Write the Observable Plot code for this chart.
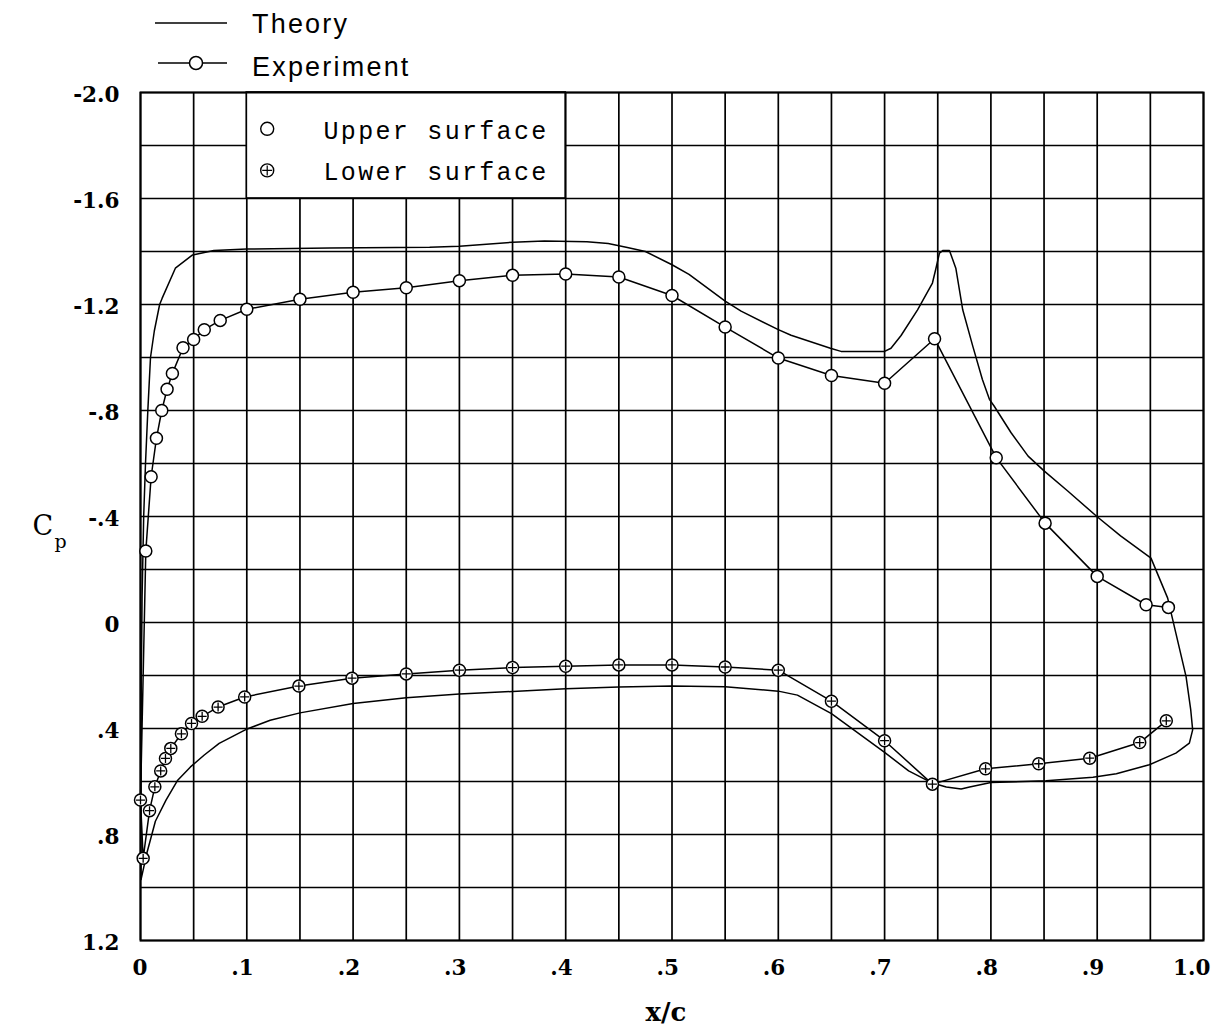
<!DOCTYPE html>
<html><head><meta charset="utf-8">
<script src="https://cdn.jsdelivr.net/npm/d3@7"></script>
<script src="https://cdn.jsdelivr.net/npm/@observablehq/plot@0.6"></script>
<style>
body{margin:0;background:#fff;}
#wrap{position:relative;width:1218px;height:1035px;}
#legend{position:absolute;left:0;top:0;height:84px;}
svg{display:block;}
</style>
</head><body>
<div id="wrap"><div id="chart"></div><div id="legend"></div></div>
<script>
// ---- Experimental data: upper surface ----
const upperX  = [0.005, 0.01, 0.015, 0.02, 0.025, 0.03, 0.04, 0.05, 0.06, 0.075, 0.10, 0.15, 0.20, 0.25, 0.30, 0.35, 0.40, 0.45, 0.50, 0.55, 0.60, 0.65, 0.70, 0.747, 0.805, 0.851, 0.90, 0.946, 0.967];
const upperCp = [-0.27, -0.55, -0.695, -0.80, -0.88, -0.94, -1.037, -1.068, -1.105, -1.14, -1.182, -1.22, -1.246, -1.263, -1.29, -1.31, -1.315, -1.304, -1.234, -1.115, -0.998, -0.932, -0.903, -1.071, -0.622, -0.375, -0.174, -0.067, -0.057];
// ---- Experimental data: lower surface ----
const lowerX  = [0, 0.0025, 0.0085, 0.0135, 0.019, 0.0235, 0.0285, 0.0385, 0.048, 0.058, 0.073, 0.098, 0.149, 0.199, 0.25, 0.30, 0.35, 0.40, 0.45, 0.50, 0.55, 0.60, 0.65, 0.70, 0.745, 0.795, 0.845, 0.893, 0.94, 0.965];
const lowerCp = [0.67, 0.89, 0.71, 0.62, 0.56, 0.513, 0.475, 0.42, 0.381, 0.354, 0.319, 0.281, 0.24, 0.21, 0.194, 0.18, 0.17, 0.165, 0.16, 0.16, 0.168, 0.18, 0.297, 0.446, 0.61, 0.552, 0.533, 0.512, 0.453, 0.371];
// ---- Theory: upper surface (LE -> TE) ----
const theoryUpperX  = [0.0005, 0.0004, 0.0008, 0.0015, 0.003, 0.0047, 0.0069, 0.0094, 0.013, 0.018, 0.0203, 0.0328, 0.049, 0.069, 0.10, 0.178, 0.272, 0.30, 0.35, 0.38, 0.42, 0.44, 0.458, 0.475, 0.50, 0.516, 0.55, 0.565, 0.60, 0.612, 0.649, 0.659, 0.70, 0.706, 0.7155, 0.731, 0.745, 0.748, 0.7516, 0.755, 0.761, 0.767, 0.7735, 0.783, 0.792, 0.7986, 0.803, 0.819, 0.835, 0.85, 0.872, 0.90, 0.922, 0.9506, 0.9663, 0.974, 0.9836, 0.988, 0.9898];
const theoryUpperCp = [0.97, 0.6, 0.2, -0.1, -0.4, -0.6, -0.8, -1.0, -1.1, -1.2, -1.223, -1.337, -1.387, -1.404, -1.409, -1.413, -1.416, -1.42, -1.435, -1.44, -1.437, -1.43, -1.415, -1.40, -1.35, -1.314, -1.213, -1.175, -1.105, -1.084, -1.035, -1.023, -1.023, -1.035, -1.083, -1.18, -1.281, -1.331, -1.394, -1.404, -1.404, -1.337, -1.18, -1.042, -0.917, -0.842, -0.817, -0.716, -0.628, -0.572, -0.497, -0.399, -0.327, -0.243, -0.092, 0.04, 0.204, 0.33, 0.405];
// ---- Theory: lower surface (TE -> LE) ----
const theoryLowerX  = [0.9867, 0.974, 0.949, 0.918, 0.896, 0.852, 0.80, 0.78, 0.772, 0.758, 0.745, 0.7226, 0.70, 0.65, 0.618, 0.60, 0.55, 0.50, 0.45, 0.40, 0.35, 0.30, 0.25, 0.20, 0.15, 0.122, 0.099, 0.074, 0.06, 0.047, 0.035, 0.024, 0.014, 0.006, 0.0005];
const theoryLowerCp = [0.455, 0.493, 0.537, 0.571, 0.584, 0.597, 0.604, 0.621, 0.628, 0.621, 0.606, 0.56, 0.49, 0.344, 0.274, 0.259, 0.242, 0.24, 0.243, 0.25, 0.26, 0.27, 0.284, 0.306, 0.341, 0.369, 0.404, 0.456, 0.50, 0.545, 0.595, 0.67, 0.75, 0.87, 0.97];
// ---- Ticks ----
const xTicks = [0, 0.1, 0.2, 0.3, 0.4, 0.5, 0.6, 0.7, 0.8, 0.9, 1.0];
const xTickLabels = ["0", ".1", ".2", ".3", ".4", ".5", ".6", ".7", ".8", ".9", "1.0"];
const yTicks = [-2.0, -1.6, -1.2, -0.8, -0.4, 0, 0.4, 0.8, 1.2];
const yTickLabels = ["-2.0", "-1.6", "-1.2", "-.8", "-.4", "0", ".4", ".8", "1.2"];
const xGridStep = 0.05, yGridStep = 0.2;
// ---- Legend text ----
const seriesLabels = ["Theory", "Experiment"];
const surfaceLabels = ["Upper surface", "Lower surface"];

// ---------- build ----------
const zip = (xs, ys) => xs.map((x, i) => ({x, cp: ys[i]}));
const upper = zip(upperX, upperCp);
const lower = zip(lowerX, lowerCp);
const theory = zip([...theoryUpperX, ...theoryLowerX], [...theoryUpperCp, ...theoryLowerCp]);
const expPath = [...upper.slice().reverse(), ...lower];

const xGrid = d3.range(0, 20).map(i => +(i * xGridStep).toFixed(2)).concat([1.0]);
const yGrid = d3.range(0, 17).map(i => +(-2.0 + i * yGridStep).toFixed(2));
const lookup = (ticks, labels) => d => labels[ticks.findIndex(t => Math.abs(t - d) < 1e-9)];

const plusSymbol = {draw(ctx, size) {const r = Math.sqrt(size / Math.PI); ctx.moveTo(-r, 0); ctx.lineTo(r, 0); ctx.moveTo(0, -r); ctx.lineTo(0, r);}};

// inner legend box (in data units of the chart frame)
const legendBox = [{x1: 0.1, x2: 0.4, y1: -2.0, y2: -1.6}];
const legendSymX = 0.1192, legendTextX = 0.1722, legendRowY = [-1.863, -1.706];
const legendRows = surfaceLabels.map((label, i) => ({label, x: legendSymX, tx: legendTextX, y: legendRowY[i]}));

const serif = "DejaVu Serif";
const chart = Plot.plot({
  width: 1218, height: 1035,
  marginTop: 92, marginLeft: 140, marginRight: 15, marginBottom: 95,
  style: {fontFamily: serif, fontSize: "22px", color: "black", background: "white"},
  x: {domain: [0, 1], label: null},
  y: {domain: [-2.0, 1.2], reverse: true, label: null},
  marks: [
    Plot.gridX(xGrid, {stroke: "black", strokeOpacity: 1, strokeWidth: 1.7}),
    Plot.gridY(yGrid, {stroke: "black", strokeOpacity: 1, strokeWidth: 1.7}),
    Plot.rect(legendBox, {x1: "x1", x2: "x2", y1: "y1", y2: "y2", fill: "white", stroke: "black", strokeWidth: 1.7}),
    Plot.frame({stroke: "black", strokeWidth: 2}),
    Plot.axisX(xTicks, {tickSize: 0, tickPadding: 19, tickFormat: lookup(xTicks, xTickLabels), textAnchor: "end", dx: 7, label: null, fontSize: 21.5, fontWeight: "bold", fontFamily: serif}),
    Plot.axisY(yTicks, {tickSize: 0, tickPadding: 21, tickFormat: lookup(yTicks, yTickLabels), dy: 3, label: null, fontSize: 21.5, fontWeight: "bold", fontFamily: serif}),
    Plot.line(theory, {x: "x", y: "cp", stroke: "black", strokeWidth: 1.5}),
    Plot.line(expPath, {x: "x", y: "cp", stroke: "black", strokeWidth: 1.5}),
    Plot.dot(upper, {x: "x", y: "cp", r: 6, fill: "white", stroke: "black", strokeWidth: 1.5}),
    Plot.dot(lower, {x: "x", y: "cp", r: 6, fill: "white", stroke: "black", strokeWidth: 1.5}),
    Plot.dot(lower, {x: "x", y: "cp", r: 4.5, symbol: plusSymbol, fill: "none", stroke: "black", strokeWidth: 1.3}),
    Plot.dot(legendRows, {x: "x", y: "y", r: 6.5, fill: "white", stroke: "black", strokeWidth: 1.4}),
    Plot.dot(legendRows.slice(1), {x: "x", y: "y", r: 5, symbol: plusSymbol, fill: "none", stroke: "black", strokeWidth: 1.2}),
    Plot.text(legendRows, {x: "tx", y: "y", text: "label", textAnchor: "start", lineAnchor: "middle", dy: 2, fontFamily: "Liberation Mono", fontSize: 25}),
    Plot.text(["x/c"], {text: d => d, frameAnchor: "bottom", dy: 72, dx: -6, fontWeight: "bold", fontSize: 26, lineAnchor: "middle", fontFamily: serif}),
    Plot.text(["C"], {text: d => d, frameAnchor: "left", dx: -108, dy: 10, fontSize: 27, lineAnchor: "middle", fontFamily: serif}),
    Plot.text(["p"], {text: d => d, frameAnchor: "left", dx: -86, dy: 25, fontSize: 19, lineAnchor: "middle", fontFamily: serif})
  ]
});
document.getElementById("chart").appendChild(chart);
d3.select(chart).selectAll("text").filter(function() { return surfaceLabels.includes(this.textContent); }).attr("letter-spacing", 2.3);

// ---------- top legend ----------
const lg = d3.select("#legend").append("svg").attr("width", 500).attr("height", 84);
const rowsY = [23, 63], baseY = [33, 76];
seriesLabels.forEach((label, i) => {
  lg.append("line").attr("x1", i ? 158 : 155).attr("x2", 227).attr("y1", rowsY[i]).attr("y2", rowsY[i]).attr("stroke", "black").attr("stroke-width", 1.5);
  if (i === 1) lg.append("circle").attr("cx", 196).attr("cy", rowsY[i]).attr("r", 6.5).attr("fill", "white").attr("stroke", "black").attr("stroke-width", 1.5);
  lg.append("text").attr("x", 252).attr("y", baseY[i]).attr("font-family", "Liberation Sans").attr("font-size", 27).attr("letter-spacing", 2.2).text(label);
});
</script>
</body></html>
